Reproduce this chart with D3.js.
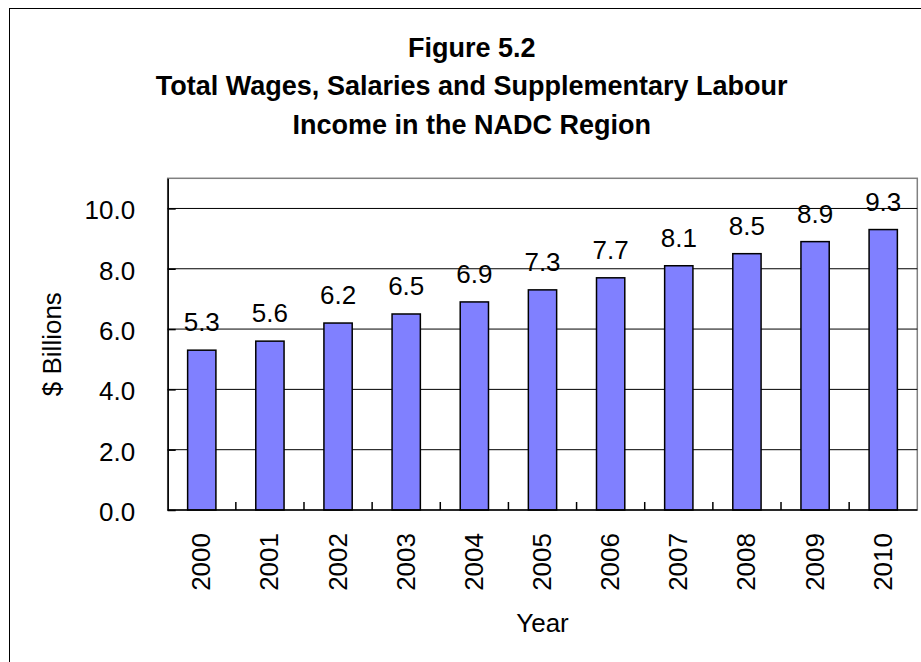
<!DOCTYPE html>
<html>
<head>
<meta charset="utf-8">
<script src="https://cdn.jsdelivr.net/npm/d3@7"></script>
<style>
  html, body { margin: 0; padding: 0; background: #fff; }
  svg { display: block; }
  text { font-family: "Liberation Sans", Arial, sans-serif; fill: #000; }
</style>
</head>
<body>
<svg id="chart" width="921" height="662"></svg>
<script>
const years = ["2000","2001","2002","2003","2004","2005","2006","2007","2008","2009","2010"];
const values = [5.3, 5.6, 6.2, 6.5, 6.9, 7.3, 7.7, 8.1, 8.5, 8.9, 9.3];
const yTicks = [0, 2, 4, 6, 8, 10];
const titleLines = ["Figure 5.2", "Total Wages, Salaries and Supplementary Labour", "Income in the NADC Region"];
const yLabel = "$ Billions";
const xLabel = "Year";

const svg = d3.select("#chart");
svg.append("rect").attr("width", 921).attr("height", 662).attr("fill", "#fff");

// outer frame
svg.append("rect")
  .attr("x", 9.5).attr("y", 8.5).attr("width", 940).attr("height", 700)
  .attr("fill", "none").attr("stroke", "#000").attr("stroke-width", 1);

const plot = { left: 167.7, right: 917.3, top: 178.3, bottom: 510 };

const x = d3.scaleBand().domain(years).range([plot.left, plot.right]).padding(0);
const barFrac = 0.415;
const y = d3.scaleLinear().domain([0, 11]).range([plot.bottom, plot.top]);

// title
const title = svg.append("text")
  .attr("text-anchor", "middle")
  .style("font-weight", "bold").style("font-size", "27px");
const baselines = [56.5, 95, 133.5];
titleLines.forEach((t, i) => {
  title.append("tspan").attr("x", 471.7).attr("y", baselines[i]).text(t);
});

// plot area border (gray)
svg.append("rect")
  .attr("x", plot.left).attr("y", plot.top)
  .attr("width", plot.right - plot.left).attr("height", plot.bottom - plot.top)
  .attr("fill", "#fff").attr("stroke", "#808080").attr("stroke-width", 1.5);

// gridlines
svg.append("g").selectAll("line")
  .data(yTicks.filter(d => d > 0))
  .join("line")
  .attr("x1", plot.left).attr("x2", plot.right)
  .attr("y1", d => y(d)).attr("y2", d => y(d))
  .attr("stroke", "#000").attr("stroke-width", 1);

// bars
svg.append("g").selectAll("rect")
  .data(years)
  .join("rect")
  .attr("x", (d) => x(d) + x.bandwidth() * (1 - barFrac) / 2)
  .attr("width", x.bandwidth() * barFrac)
  .attr("y", (d, i) => y(values[i]))
  .attr("height", (d, i) => y(0) - y(values[i]))
  .attr("fill", "#8080FF").attr("stroke", "#000").attr("stroke-width", 1.5);

// value labels
svg.append("g").selectAll("text")
  .data(years)
  .join("text")
  .attr("x", d => x(d) + x.bandwidth() / 2)
  .attr("y", (d, i) => y(values[i]) - 19)
  .attr("text-anchor", "middle")
  .style("font-size", "26px")
  .text((d, i) => values[i].toFixed(1));

// y axis
const yAxis = d3.axisLeft(y).tickValues(yTicks).tickFormat(d3.format(".1f"))
  .tickSizeInner(-8).tickSizeOuter(0).tickPadding(0);
const gy = svg.append("g").attr("transform", `translate(${plot.left},0)`).call(yAxis);
gy.select(".domain").attr("stroke", "#000").attr("stroke-width", 1.5);
gy.selectAll(".tick line").attr("stroke", "#000").attr("stroke-width", 1.5);
gy.selectAll(".tick text")
  .attr("x", -32.5).attr("dy", null).attr("y", 10.5)
  .attr("text-anchor", "end")
  .style("font-size", "26px").style("font-family", "'Liberation Sans', Arial, sans-serif")
  .attr("fill", "#000");

// x axis: ticks at category boundaries
const boundaries = years.slice(1).map(d => x(d));
svg.append("g").selectAll("line")
  .data(boundaries)
  .join("line")
  .attr("x1", d => d).attr("x2", d => d)
  .attr("y1", plot.bottom - 8).attr("y2", plot.bottom)
  .attr("stroke", "#000").attr("stroke-width", 1.5);
svg.append("line")
  .attr("x1", plot.left).attr("x2", plot.right)
  .attr("y1", plot.bottom).attr("y2", plot.bottom)
  .attr("stroke", "#000").attr("stroke-width", 1.5);

// x labels rotated
svg.append("g").selectAll("text")
  .data(years)
  .join("text")
  .attr("transform", d => `translate(${x(d) + x.bandwidth() / 2 + 8.5},533) rotate(-90)`)
  .attr("text-anchor", "end")
  .style("font-size", "26px")
  .text(d => d);

// axis titles
svg.append("text")
  .attr("transform", `translate(61,${(plot.top + plot.bottom) / 2}) rotate(-90)`)
  .attr("text-anchor", "middle")
  .style("font-size", "26px")
  .text(yLabel);

svg.append("text")
  .attr("x", (plot.left + plot.right) / 2).attr("y", 631.5)
  .attr("text-anchor", "middle")
  .style("font-size", "26px")
  .text(xLabel);
</script>
</body>
</html>
